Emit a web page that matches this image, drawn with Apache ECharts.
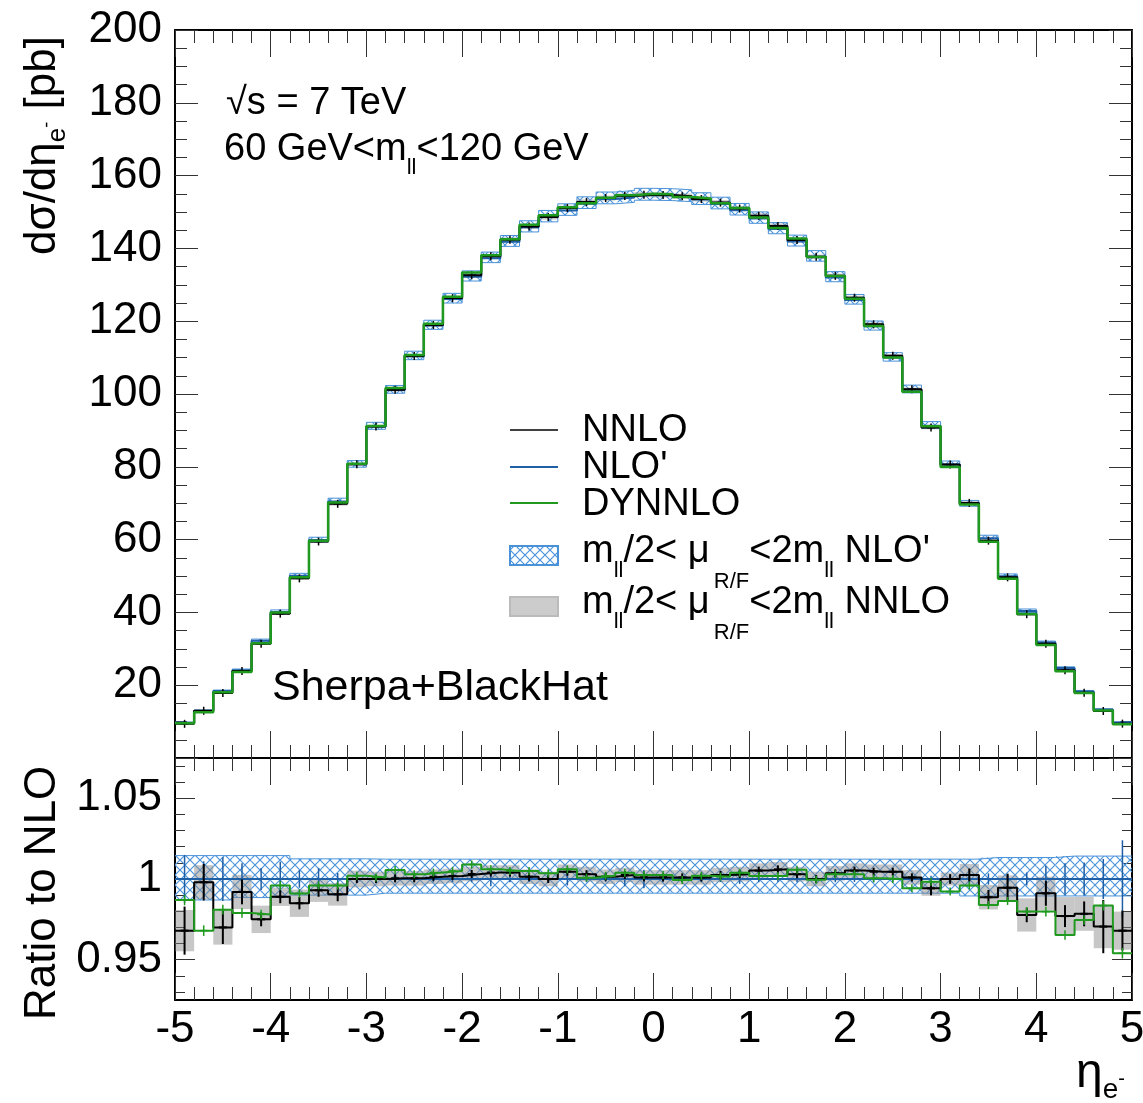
<!DOCTYPE html>
<html><head><meta charset="utf-8">
<script src="https://cdn.jsdelivr.net/npm/echarts@6/dist/echarts.min.js"></script>
<style>html,body{margin:0;padding:0;background:#fff}#c{width:1143px;height:1103px}</style>
</head><body><div id="c"></div><script>
// ---------------- data ----------------
const edges = [-5,-4.8,-4.6,-4.4,-4.2,-4,-3.8,-3.6,-3.4,-3.2,-3,-2.8,-2.6,-2.4,-2.2,-2,-1.8,-1.6,-1.4,-1.2,-1,-0.8,-0.6,-0.4,-0.2,0,0.2,0.4,0.6,0.8,1,1.2,1.4,1.6,1.8,2,2.2,2.4,2.6,2.8,3,3.2,3.4,3.6,3.8,4,4.2,4.4,4.6,4.8,5];
// NLO' cross section per bin [pb]
const nloTop = [9.7,13.0,18.4,24.1,32.2,40.1,50.1,59.9,70.5,80.7,91.1,101.1,110.4,118.8,126.1,132.2,137.3,141.8,145.8,148.6,150.4,152.3,153.6,154.0,154.6,154.5,154.2,153.4,152.2,150.5,148.2,145.3,141.9,137.7,132.0,125.8,118.6,110.0,101.2,91.3,80.6,69.9,60.4,49.9,40.4,31.7,24.7,18.3,13.3,9.75];
// ratios to NLO'
const ratioNNLO = [0.968,0.998,0.970,0.992,0.975,0.989,0.985,0.993,0.9905,1.000,1.000,1.0004,1.0004,1.0014,1.0019,1.0031,1.004,1.004,1.0014,1.000,1.0045,1.003,1.0014,1.0025,1.001,1.001,1.001,1.001,1.0025,1.003,1.0052,1.006,1.003,1.000,1.0035,1.0052,1.0045,1.0045,1.001,0.9942,1.000,1.0025,0.9887,0.9946,0.9777,0.9911,0.977,0.9784,0.9705,0.968];
const ratioDY = [0.987,0.968,0.981,0.979,0.978,0.996,0.991,0.996,0.996,1.002,1.001,1.0056,1.003,1.004,1.005,1.009,1.006,1.005,1.005,1.0035,1.006,1.0008,1.002,1.0039,1.0025,1.0025,0.9994,1.002,1.0014,1.0039,1.0019,1.0019,1.0058,0.9995,1.003,1.003,1.0004,1.000,0.9942,0.9983,0.9922,0.9959,0.9839,0.9864,0.9798,0.9798,0.9653,0.9746,0.9835,0.954];
// statistical errors (relative)
const errNNLO = [0.0149,0.0113,0.0103,0.0077,0.0043,0.004,0.0038,0.004,0.0043,0.0022,0.002,0.002,0.0021,0.002,0.0019,0.002,0.002,0.0021,0.002,0.002,0.0022,0.002,0.002,0.0021,0.0022,0.002,0.002,0.002,0.002,0.0021,0.002,0.002,0.0022,0.002,0.002,0.0021,0.002,0.0022,0.0025,0.0043,0.003,0.004,0.0045,0.0087,0.0045,0.0077,0.0068,0.0077,0.0165,0.0124];
const errDY = [0.0033,0.0033,0.003,0.003,0.003,0.0028,0.0025,0.0025,0.0025,0.0018,0.0016,0.0015,0.0015,0.0015,0.0015,0.0015,0.0015,0.0015,0.0015,0.0015,0.0015,0.0015,0.0015,0.0015,0.0015,0.0015,0.0015,0.0015,0.0015,0.0015,0.0015,0.0015,0.0015,0.0015,0.0015,0.0015,0.0015,0.0016,0.0018,0.002,0.002,0.002,0.0025,0.0025,0.0028,0.003,0.003,0.003,0.003,0.0033];
const errNLO = [0.0149,0.011,0.0136,0.0097,0.0068,0.0107,0.0054,0.0068,0.0037,0.002,0.0018,0.002,0.0018,0.002,0.0018,0.002,0.0045,0.002,0.0018,0.002,0.004,0.002,0.0018,0.0045,0.0058,0.002,0.0018,0.002,0.0018,0.003,0.002,0.0018,0.002,0.0018,0.002,0.0018,0.002,0.0018,0.002,0.002,0.0025,0.003,0.0035,0.003,0.004,0.0082,0.0097,0.0103,0.0124,0.024];
// scale-variation bands (relative)
const scaleNNLO = [0.0128,0.0106,0.0107,0.0106,0.0085,0.0057,0.0085,0.0072,0.007,0.0052,0.0045,0.0045,0.0045,0.0045,0.0045,0.0045,0.0045,0.0045,0.0045,0.0045,0.0045,0.0045,0.0045,0.0045,0.0045,0.0045,0.0045,0.0045,0.0045,0.0045,0.0045,0.0045,0.0045,0.0045,0.0045,0.0045,0.0045,0.0045,0.0045,0.0046,0.004,0.0068,0.0076,0.0076,0.0103,0.0103,0.0118,0.0105,0.0134,0.0118];
const scaleNLOUp = [1.0145,1.0145,1.0145,1.0145,1.0145,1.0145,1.0125,1.0125,1.0125,1.0125,1.0123,1.0123,1.0123,1.0123,1.0123,1.0123,1.0123,1.0123,1.0123,1.0123,1.0123,1.0123,1.0123,1.0123,1.0123,1.0123,1.0123,1.0123,1.0123,1.0123,1.0123,1.0123,1.0123,1.0123,1.0123,1.0123,1.0123,1.0123,1.0123,1.0123,1.0123,1.0123,1.0133,1.0133,1.0133,1.0133,1.0142,1.0142,1.0142,1.0142];
const scaleNLODown = [0.987,0.987,0.987,0.9885,0.9885,0.9885,0.990,0.990,0.990,0.990,0.9912,0.9912,0.9912,0.9912,0.9912,0.9912,0.9912,0.9912,0.9912,0.9912,0.9912,0.9912,0.9912,0.9912,0.9912,0.9912,0.9912,0.9912,0.9912,0.9912,0.9912,0.9912,0.9912,0.9912,0.9912,0.9912,0.9912,0.9912,0.9912,0.9912,0.9912,0.9895,0.9895,0.9895,0.9895,0.9895,0.9895,0.9895,0.9895,0.9895];
// tick values of the ratio panel
const ratioMajorTicks = [0.95, 1, 1.05];
const ratioMinorTicks = [0.93,0.94,0.96,0.97,0.98,0.99,1.01,1.02,1.03,1.04,1.06,1.07];

// ---------------- styling helpers ----------------
const FONT = '"Liberation Sans", Arial, Helvetica, sans-serif';
const BLUE = '#1f5fa5', HATCH = '#4a94dc', HATCH_EDGE = '#4a92d8', GREEN = '#1f9a1f';
const hatchCanvas = document.createElement('canvas');
hatchCanvas.width = 10; hatchCanvas.height = 10;
(function(){const g = hatchCanvas.getContext('2d'); g.strokeStyle = HATCH; g.lineWidth = 1.2;
  g.beginPath(); g.moveTo(-1,-1); g.lineTo(11,11); g.moveTo(11,-1); g.lineTo(-1,11); g.stroke();})();
const hatch = {image: hatchCanvas, repeat: 'repeat'};

const centers = edges.slice(0,-1).map((e,i)=>(e+edges[i+1])/2);
const nnloTop = nloTop.map((v,i)=>v*ratioNNLO[i]);
const dyTop = nloTop.map((v,i)=>v*ratioDY[i]);
const step = vals => edges.map((e,i)=>[e, vals[Math.min(i, vals.length-1)]]);
const boxes = (lo, hi) => lo.map((l,i)=>[edges[i], edges[i+1], l, hi[i]]);

function boxRenderer(style){ return (params, api) => {
  const a = api.coord([api.value(0), api.value(3)]);
  const b = api.coord([api.value(1), api.value(2)]);
  return {type:'rect', shape:{x:a[0], y:a[1], width:b[0]-a[0], height:b[1]-a[1]}, style:Object.assign({}, style)};
};}
function errRenderer(color, width, mk){ return (params, api) => {
  const c = api.value(0), v = api.value(1), e = api.value(2);
  const p = api.coord([c, v]), t = api.coord([c, v+e]), b = api.coord([c, v-e]);
  const ch = [{type:'line', shape:{x1:p[0], y1:Math.min(t[1], p[1]-mk), x2:p[0], y2:Math.max(b[1], p[1]+mk)}, style:{stroke:color, lineWidth:width}}];
  if (mk > 0) ch.push({type:'line', shape:{x1:p[0]-mk, y1:p[1], x2:p[0]+mk, y2:p[1]}, style:{stroke:color, lineWidth:width}});
  return {type:'group', children:ch};
};}
function custom(xi, yi, render, data, z){ return {type:'custom', xAxisIndex:xi, yAxisIndex:yi, renderItem:render, data, silent:true, z, clip:true}; }
function stepLine(data, color, width, xi, yi, z){ return {type:'line', xAxisIndex:xi, yAxisIndex:yi, data, step:'end', symbol:'none', lineStyle:{color, width}, itemStyle:{color}, silent:true, z}; }

const tickLine = {color:'#333', width:1};
const labelStyle = {fontSize:44, fontFamily:FONT, color:'#000'};
function xAx(grid, pos, labels){ return {type:'value', gridIndex:grid, position:pos, min:-5, max:5, interval:1,
  axisLine:{show:true, onZero:false, lineStyle:{color:'#000', width:2}},
  axisTick:{show:true, inside:true, length:27, lineStyle:tickLine},
  minorTick:{show:true, splitNumber:5, length:13, lineStyle:tickLine},
  splitLine:{show:false}, minorSplitLine:{show:false},
  axisLabel:Object.assign({show:labels, margin:8}, labelStyle)}; }
function yTop(pos, labels){ return {type:'value', gridIndex:0, position:pos, min:0, max:200, interval:20,
  axisLine:{show:true, onZero:false, lineStyle:{color:'#000', width:2}},
  axisTick:{show:true, inside:true, length:23, lineStyle:tickLine},
  minorTick:{show:true, splitNumber:4, length:12, lineStyle:tickLine},
  splitLine:{show:false}, minorSplitLine:{show:false},
  axisLabel:Object.assign({show:labels, margin:13, formatter:v=>v===0?'':String(v)}, labelStyle)}; }
function yRatio(pos, labels){ return {type:'value', gridIndex:1, position:pos, min:0.925, max:1.075,
  axisLine:{show:true, onZero:false, lineStyle:{color:'#000', width:2}},
  axisTick:{show:true, inside:true, length:20, customValues:ratioMajorTicks, lineStyle:tickLine},
  splitLine:{show:false},
  axisLabel:Object.assign({show:labels, margin:13, customValues:ratioMajorTicks, formatter:v=>String(+v.toFixed(2))}, labelStyle)}; }
function yRatioMinor(pos){ return {type:'value', gridIndex:1, position:pos, min:0.925, max:1.075,
  axisLine:{show:false, onZero:false}, splitLine:{show:false}, axisLabel:{show:false},
  axisTick:{show:true, inside:true, length:10, customValues:ratioMinorTicks, lineStyle:tickLine}}; }

// text runs with sub/superscripts (y = baseline)
const mctx = document.createElement('canvas').getContext('2d');
function run(x, yBase, parts, rot){
  const children = []; let cx = 0;
  for (const p of parts){
    const font = p.s + 'px ' + FONT;
    mctx.font = font;
    const w = mctx.measureText(p.t).width;
    cx += (p.dx||0);
    children.push({type:'text', x:cx, y:(p.dy||0) - 0.3465*p.s,
      style:{text:p.t, font, fill:'#000', textAlign:'left', textVerticalAlign:'middle', align:'left', verticalAlign:'middle'}});
    cx += w;
  }
  return {type:'group', x, y:yBase, rotation:rot||0, children, silent:true};
}
function legendScaleRun(y, tail){
  return run(582, y, [{t:'m',s:38},{t:'ll',s:22,dy:14},{t:'/2< ',s:38},{t:'μ',s:38},{t:'R/F',s:22,dy:25,dx:4},{t:'<2m',s:38},{t:'ll',s:22,dy:14},{t:tail,s:38}]);
}

const chart = echarts.init(document.getElementById('c'), null, {renderer:'canvas'});
chart.setOption({
  animation:false,
  backgroundColor:'#fff',
  grid:[{left:175, top:30, width:957, height:728, containLabel:false, outerBoundsMode:'none'},
        {left:175, top:758, width:957, height:242, containLabel:false, outerBoundsMode:'none'}],
  xAxis:[xAx(0,'bottom',false), xAx(0,'top',false), xAx(1,'bottom',true), xAx(1,'top',false)],
  yAxis:[yTop('left',true), yTop('right',false), yRatio('left',true), yRatio('right',false), yRatioMinor('left'), yRatioMinor('right')],
  series:[
    // ---- top panel ----
    custom(0,0, boxRenderer({fill:hatch}), boxes(nloTop.map((v,i)=>v*scaleNLODown[i]), nloTop.map((v,i)=>v*scaleNLOUp[i])), 1),
    stepLine(step(nloTop.map((v,i)=>v*scaleNLOUp[i])), HATCH_EDGE, 1, 0,0, 2),
    stepLine(step(nloTop.map((v,i)=>v*scaleNLODown[i])), HATCH_EDGE, 1, 0,0, 2),
    custom(0,0, boxRenderer({fill:'rgba(130,130,130,0.45)'}), boxes(nnloTop.map((v,i)=>v*(1-scaleNNLO[i])), nnloTop.map((v,i)=>v*(1+scaleNNLO[i]))), 3),
    stepLine(step(nloTop), BLUE, 2, 0,0, 4),
    stepLine(step(nnloTop), '#000', 2, 0,0, 5),
    custom(0,0, errRenderer('#000',1.5,4), centers.map((c,i)=>[c, nnloTop[i], nnloTop[i]*errNNLO[i]]), 5),
    stepLine(step(dyTop), GREEN, 2.5, 0,0, 6),
    // ---- ratio panel ----
    custom(2,2, boxRenderer({fill:hatch}), boxes(scaleNLODown, scaleNLOUp), 1),
    stepLine(step(scaleNLOUp), HATCH_EDGE, 1, 2,2, 2),
    stepLine(step(scaleNLODown), HATCH_EDGE, 1, 2,2, 2),
    custom(2,2, boxRenderer({fill:'rgba(130,130,130,0.45)'}), boxes(ratioNNLO.map((v,i)=>v-scaleNNLO[i]), ratioNNLO.map((v,i)=>v+scaleNNLO[i])), 3),
    stepLine(step(nloTop.map(()=>1)), BLUE, 2, 2,2, 4),
    custom(2,2, errRenderer(BLUE,1.5,0), centers.map((c,i)=>[c, 1, errNLO[i]]), 4),
    stepLine(step(ratioNNLO), '#000', 2, 2,2, 5),
    custom(2,2, errRenderer('#000',2,4), centers.map((c,i)=>[c, ratioNNLO[i], errNNLO[i]]), 5),
    stepLine(step(ratioDY), GREEN, 2, 2,2, 6),
    custom(2,2, errRenderer(GREEN,1.5,4), centers.map((c,i)=>[c, ratioDY[i], errDY[i]]), 6)
  ],
  graphic:[
    run(226, 117, [{t:'√',s:38},{t:'s = 7 TeV',s:38}]),
    run(224, 163, [{t:'60 GeV<m',s:38},{t:'ll',s:22,dy:13},{t:'<120 GeV',s:38}]),
    run(272, 703, [{t:'Sherpa+BlackHat',s:43}]),
    {type:'line', shape:{x1:510,y1:430,x2:558,y2:430}, style:{stroke:'#000', lineWidth:1.5}},
    {type:'line', shape:{x1:510,y1:467,x2:558,y2:467}, style:{stroke:BLUE, lineWidth:2}},
    {type:'line', shape:{x1:510,y1:503,x2:558,y2:503}, style:{stroke:GREEN, lineWidth:2}},
    run(582, 444, [{t:'NNLO',s:38}]),
    run(582, 481, [{t:"NLO'",s:38}]),
    run(582, 518, [{t:'DYNNLO',s:38}]),
    {type:'rect', shape:{x:510,y:546,width:48,height:19}, style:{fill:hatch, stroke:HATCH_EDGE, lineWidth:2}},
    {type:'rect', shape:{x:510,y:597,width:48,height:19}, style:{fill:'#cccccc', stroke:'#bbbbbb', lineWidth:2}},
    legendScaleRun(565, " NLO'"),
    legendScaleRun(616, ' NNLO'),
    run(58, 255, [{t:'dσ/dη',s:44},{t:'e',s:26,dy:9},{t:'-',s:18,dy:-5},{t:' [pb]',s:44}], Math.PI/2),
    run(58, 1020, [{t:'Ratio to NLO',s:44}], Math.PI/2),
    run(1076, 1090, [{t:'η',s:48},{t:'e',s:28,dy:10},{t:'-',s:20,dy:-4}])
  ]
});
</script></body></html>
